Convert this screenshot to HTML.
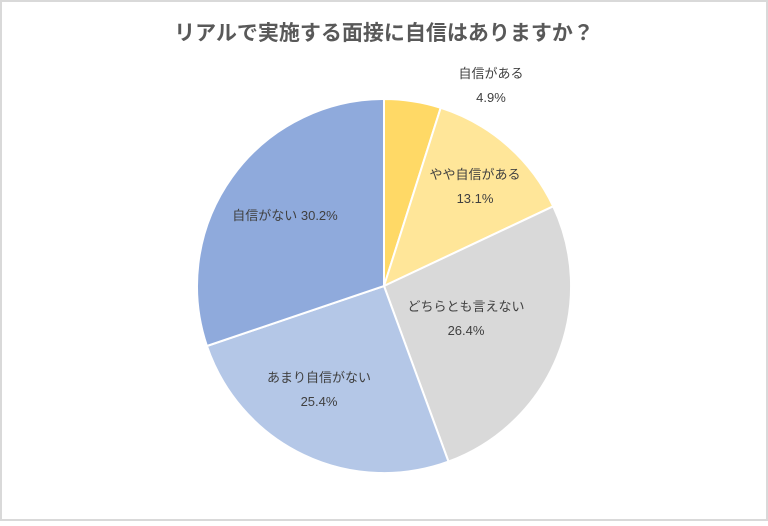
<!DOCTYPE html>
<html><head><meta charset="utf-8"><style>
html,body{margin:0;padding:0;background:#fff;}
svg text{font-family:"Liberation Sans","Noto Sans CJK JP",sans-serif;fill:#404040;}
</style></head><body>
<svg width="768" height="521" viewBox="0 0 768 521" xmlns="http://www.w3.org/2000/svg">
<rect x="1" y="1" width="766" height="519" fill="#fff" stroke="#d9d9d9" stroke-width="2"/>
<text x="384" y="40" text-anchor="middle" font-size="21" font-weight="bold" style="fill:#595959">リアルで実施する面接に自信はありますか？</text>
<g stroke="#fff" stroke-width="2" stroke-linejoin="round">
<path d="M384,286 L384,99 A187,187 0 0 1 440.7,107.8 Z" fill="#FFD966"/>
<path d="M384,286 L440.7,107.8 A187,187 0 0 1 553.2,206.3 Z" fill="#FFE699"/>
<path d="M384,286 L553.2,206.3 A187,187 0 0 1 448.5,461.6 Z" fill="#D9D9D9"/>
<path d="M384,286 L448.5,461.6 A187,187 0 0 1 206.9,346.0 Z" fill="#B4C7E7"/>
<path d="M384,286 L206.9,346.0 A187,187 0 0 1 384,99 Z" fill="#8FAADC"/>
</g>
<g font-size="13" text-anchor="middle">
<text x="491" y="78">自信がある</text>
<text x="491" y="102">4.9%</text>
<text x="475" y="179">やや自信がある</text>
<text x="475" y="203">13.1%</text>
<text x="466" y="311">どちらとも言えない</text>
<text x="466" y="335">26.4%</text>
<text x="319" y="382">あまり自信がない</text>
<text x="319" y="406">25.4%</text>
<text x="285" y="220">自信がない 30.2%</text>
</g>
</svg>
</body></html>
